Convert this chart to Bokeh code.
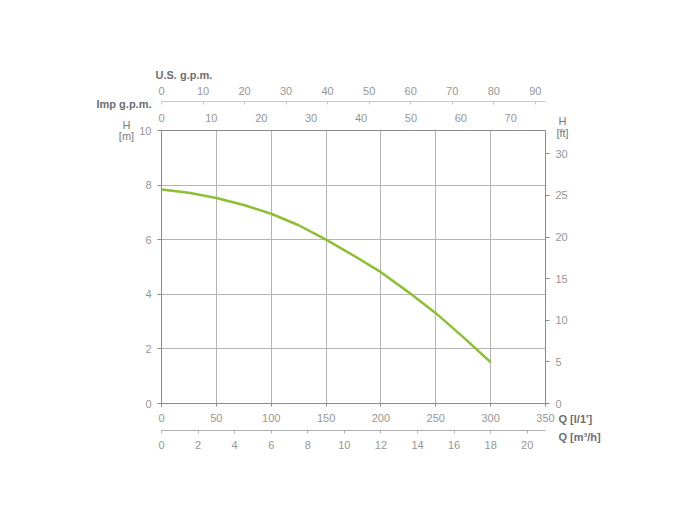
from bokeh.plotting import figure
from bokeh.layouts import column, row
from bokeh.models import LinearAxis, Range1d, FixedTicker, Label
from bokeh.embed import file_html
from bokeh.resources import INLINE

# data
q_lpm = [0, 25, 50, 75, 100, 125, 150, 175, 200, 225, 250, 275, 300]
head_m = [7.84, 7.72, 7.53, 7.27, 6.95, 6.53, 6.0, 5.42, 4.81, 4.08, 3.31, 2.43, 1.51]

q_ticks = [0, 50, 100, 150, 200, 250, 300, 350]
h_ticks = [0, 2, 4, 6, 8, 10]
ft_ticks = [0, 5, 10, 15, 20, 25, 30]
m3h_ticks = [0, 2, 4, 6, 8, 10, 12, 14, 16, 18, 20]
us_ticks = [0, 10, 20, 30, 40, 50, 60, 70, 80, 90]
imp_ticks = [0, 10, 20, 30, 40, 50, 60, 70]

Q_MAX = 350.0
H_MAX = 10.0

FONT = "Liberation Sans"
TICK_COL = "#969696"
LAB_COL = "#6e6e6e"
GRID_COL = "#b4b4b4"
FRAME_COL = "#8a8a8a"

W, H = 684, 504
p = figure(width=W, height=H, x_range=Range1d(0, Q_MAX), y_range=Range1d(0, H_MAX),
           output_backend="svg", toolbar_location=None,
           min_border_left=161, min_border_right=W - 545, min_border_top=130,
           min_border_bottom=H - 403)
p.outline_line_color = FRAME_COL
p.background_fill_color = "white"
p.border_fill_color = "white"

p.extra_x_ranges = {
    "m3h": Range1d(0, Q_MAX * 60 / 1000),
    "us": Range1d(0, Q_MAX / 3.78541),
    "imp": Range1d(0, Q_MAX / 4.54609),
}
p.extra_y_ranges = {"ft": Range1d(0, H_MAX / 0.3048)}

def style(ax, ticks, tick_out=4, standoff=6, line=True):
    ax.ticker = FixedTicker(ticks=ticks)
    ax.major_label_text_font = FONT
    ax.major_label_text_font_size = "11px"
    ax.major_label_text_color = TICK_COL
    ax.major_tick_out = tick_out
    ax.major_tick_in = 0
    ax.minor_tick_out = 0
    ax.minor_tick_in = 0
    ax.major_tick_line_color = FRAME_COL
    ax.axis_line_color = FRAME_COL if line else None
    ax.major_label_standoff = standoff

xa = p.xaxis[0]
style(xa, q_ticks, tick_out=3, standoff=7)
xa.axis_label = " "
xa.axis_label_text_font_size = "3px"
xa.axis_label_standoff = 0
ya = p.yaxis[0]
style(ya, h_ticks, tick_out=4, standoff=6)

ax_m3h = LinearAxis(x_range_name="m3h")
style(ax_m3h, m3h_ticks, tick_out=3, standoff=7)
ax_m3h.axis_line_color = "#b0b0b0"
ax_m3h.major_tick_line_color = "#b0b0b0"
p.add_layout(ax_m3h, "below")

ax_ft = LinearAxis(y_range_name="ft")
style(ax_ft, ft_ticks, tick_out=4, standoff=6)
p.add_layout(ax_ft, "right")

ax_imp = LinearAxis(x_range_name="imp")
style(ax_imp, imp_ticks, tick_out=0, standoff=9, line=False)
ax_imp.axis_label = " "
ax_imp.axis_label_text_font_size = "5px"
ax_imp.axis_label_standoff = 0
p.add_layout(ax_imp, "above")

ax_us = LinearAxis(x_range_name="us")
style(ax_us, us_ticks, tick_out=0, standoff=7)
ax_us.major_tick_in = 3
ax_us.axis_line_color = "#c8c8c8"
ax_us.major_tick_line_color = "#c8c8c8"
p.add_layout(ax_us, "above")

p.xgrid.ticker = FixedTicker(ticks=q_ticks)
p.ygrid.ticker = FixedTicker(ticks=h_ticks)
p.xgrid.grid_line_color = GRID_COL
p.ygrid.grid_line_color = GRID_COL

p.line(q_lpm, head_m, line_color="#8dbf35", line_width=2.5, line_join="round")

# transparent overlay canvas for the axis titles (page-pixel coordinates)
ov = figure(width=W, height=H, x_range=Range1d(0, W), y_range=Range1d(H, 0),
            output_backend="svg", toolbar_location=None,
            x_axis_location=None, y_axis_location=None,
            min_border=0, min_border_left=0, min_border_right=0,
            min_border_top=0, min_border_bottom=0)
ov.grid.visible = False
ov.outline_line_color = None
ov.background_fill_alpha = 0
ov.border_fill_alpha = 0

def lab(px, py, text, align="left", bold=True):
    ov.add_layout(Label(x=px, y=py, text=text, text_font=FONT, text_font_size="11px",
                        text_font_style="bold" if bold else "normal",
                        text_color=LAB_COL if bold else "#7a7a7a",
                        text_align=align, text_baseline="middle"))

lab(126, 124, "H", align="center", bold=False)
lab(126, 135, "[m]", align="center", bold=False)
lab(562, 120, "H", align="center", bold=False)
lab(562, 132, "[ft]", align="center", bold=False)
lab(155, 74, "U.S. g.p.m.")
lab(96, 103, "Imp g.p.m.")
lab(558, 418, "Q [l/1']")
lab(558, 436, "Q [m³/h]")

layout = column(row(p), row(ov, margin=(-H, 0, 0, 0)), spacing=0)
open("out.html", "w").write(file_html(layout, INLINE))
